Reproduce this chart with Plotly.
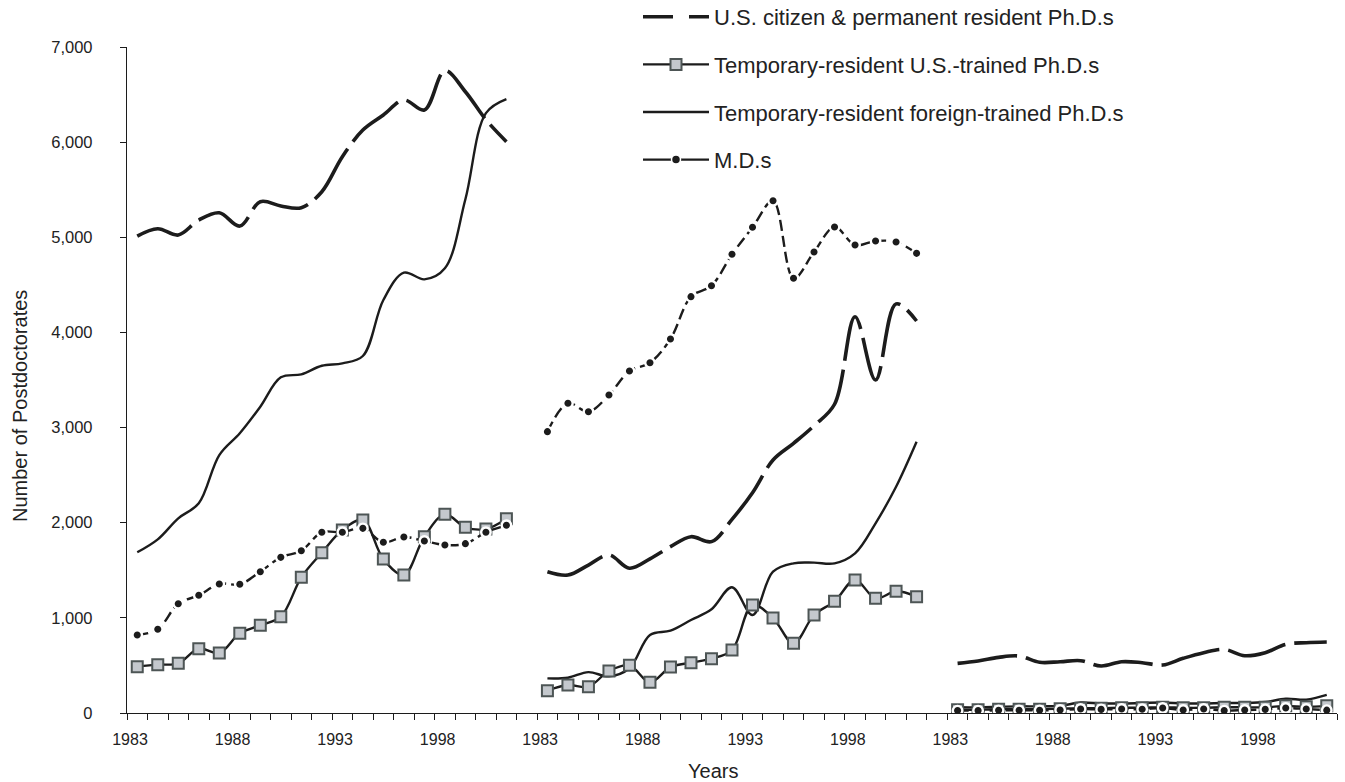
import plotly.graph_objects as go

# Years shown in each of the three side-by-side groups
years = list(range(1983, 2002))

# Postdoctorate counts per series, one list per group (left, middle, right)
us_citizen = [
    [5013, 5090, 5024, 5181, 5258, 5118, 5374, 5329, 5311, 5479, 5847, 6127, 6285, 6443, 6338, 6751, 6530, 6236, 6005],
    [1485, 1450, 1555, 1661, 1521, 1620, 1748, 1853, 1801, 2035, 2315, 2659, 2834, 3020, 3245, 4165, 3500, 4300, 4120],
    [522, 547, 585, 599, 533, 539, 550, 494, 539, 529, 504, 575, 634, 669, 602, 634, 722, 739, 746],
]
us_trained = [
    [487, 508, 522, 676, 631, 838, 922, 1012, 1426, 1685, 1923, 2028, 1618, 1450, 1853, 2088, 1952, 1934, 2042],
    [235, 294, 277, 441, 501, 323, 483, 529, 571, 662, 1135, 998, 732, 1030, 1174, 1398, 1205, 1279, 1223],
    [35, 35, 40, 40, 40, 45, 50, 50, 55, 55, 60, 55, 55, 60, 60, 60, 75, 65, 75],
]
foreign_trained = [
    [1689, 1825, 2046, 2204, 2711, 2940, 3219, 3528, 3560, 3650, 3675, 3752, 4341, 4628, 4558, 4674, 5400, 6305, 6453],
    [364, 371, 430, 385, 470, 820, 865, 977, 1090, 1321, 1030, 1485, 1573, 1580, 1573, 1678, 1994, 2378, 2851],
    [60, 60, 65, 70, 70, 75, 110, 100, 100, 105, 110, 100, 100, 105, 105, 115, 150, 140, 190],
]
mds = [
    [820, 880, 1149, 1237, 1356, 1353, 1485, 1636, 1706, 1899, 1899, 1941, 1794, 1850, 1808, 1766, 1780, 1899, 1973],
    [2957, 3255, 3167, 3342, 3594, 3682, 3931, 4376, 4491, 4821, 5105, 5384, 4569, 4845, 5108, 4919, 4961, 4950, 4831],
    [25, 25, 28, 28, 28, 32, 42, 38, 42, 40, 52, 32, 42, 25, 32, 38, 52, 42, 30],
]

y_ticks = [0, 1000, 2000, 3000, 4000, 5000, 6000, 7000]

series_names = [
    "U.S. citizen & permanent resident Ph.D.s",
    "Temporary-resident U.S.-trained Ph.D.s",
    "Temporary-resident foreign-trained Ph.D.s",
    "M.D.s",
]

GROUP_STRIDE = len(years) + 1          # one empty category between groups
N_SLOTS = 3 * len(years) + 2

INK = "#1c1c1c"
FONT = "Liberation Sans, Arial, Helvetica, sans-serif"


def stitch(groups):
    """Lay the three groups out on one category axis, breaking the line between them."""
    xs, ys = [], []
    for g, vals in enumerate(groups):
        for i, v in enumerate(vals):
            xs.append(g * GROUP_STRIDE + i)
            ys.append(v)
        xs.append(None)
        ys.append(None)
    return xs, ys


md_marker = dict(symbol="circle", size=9.5, color=INK, line=dict(color="white", width=2.4))
sq_marker = dict(symbol="square", size=11, color="#c4c8cd", line=dict(color="#4d5555", width=2))

styles = {
    "us": dict(line=dict(color=INK, width=3.6, dash="60px,9px", shape="spline"), mode="lines"),
    "ustr": dict(line=dict(color=INK, width=2.4, shape="spline"), mode="lines+markers", marker=sq_marker),
    "for": dict(line=dict(color=INK, width=2.4, shape="spline"), mode="lines"),
    "md": dict(line=dict(color=INK, width=2.4, dash="11px,5px", shape="spline"), mode="lines+markers", marker=md_marker),
}

fig = go.Figure()

# data lines, back to front
for key, groups in [("us", us_citizen), ("for", foreign_trained), ("ustr", us_trained), ("md", mds)]:
    xs, ys = stitch(groups)
    fig.add_trace(go.Scatter(x=xs, y=ys, showlegend=False, hoverinfo="skip", **styles[key]))

# legend entries
legend_styles = {
    "us": dict(line=dict(color=INK, width=3.6, dash="30px,16px"), mode="lines"),
    "ustr": dict(line=dict(color=INK, width=2.4), mode="lines+markers", marker=sq_marker),
    "for": dict(line=dict(color=INK, width=2.4), mode="lines"),
    "md": dict(
        line=dict(color=INK, width=2.4),
        mode="lines+markers",
        marker=dict(symbol="circle", size=9, color=INK, line=dict(color="white", width=1.5)),
    ),
}
for gi, (key, name) in enumerate(zip(["us", "ustr", "for", "md"], series_names)):
    fig.add_trace(go.Scatter(x=[None], y=[None], name=name, legendgroup=f"g{gi}", showlegend=True, **legend_styles[key]))

# category boundaries carry tick marks; every fifth year is labelled
tick_vals, tick_text = [], []
for g in range(3):
    for i, yr in enumerate(years):
        tick_vals.append(g * GROUP_STRIDE + i - 0.5)
        tick_text.append(str(yr) if (yr - years[0]) % 5 == 0 else "")
    if g < 2:
        tick_vals.append(g * GROUP_STRIDE + len(years) - 0.5)
        tick_text.append("")
tick_vals.append(N_SLOTS - 0.5)
tick_text.append("")

fig.update_layout(
    width=1345,
    height=782,
    autosize=False,
    margin=dict(l=127, r=8, t=47, b=69, autoexpand=False),
    paper_bgcolor="white",
    plot_bgcolor="white",
    font=dict(family=FONT, color="#222222"),
    showlegend=True,
    legend=dict(
        x=(638 - 127) / 1210,
        y=1 + (47 + 4) / 666,
        xanchor="left",
        yanchor="top",
        font=dict(size=22, family=FONT, color="#222222"),
        itemwidth=66,
        traceorder="grouped",
        tracegroupgap=16,
        bgcolor="rgba(0,0,0,0)",
    ),
    xaxis=dict(
        range=[-0.5, N_SLOTS - 0.5],
        tickmode="array",
        tickvals=tick_vals,
        ticktext=tick_text,
        ticks="outside",
        ticklen=6,
        tickwidth=1.2,
        tickcolor=INK,
        showline=True,
        linecolor=INK,
        linewidth=1.3,
        showgrid=False,
        zeroline=False,
        tickfont=dict(size=16, family=FONT, color="#222222"),
        ticklabelshift=3,
        ticklabelstandoff=6,
    ),
    yaxis=dict(
        range=[0, 7000],
        tickmode="array",
        tickvals=y_ticks,
        tickformat=",",
        ticks="outside",
        ticklen=6,
        tickwidth=1.2,
        tickcolor=INK,
        showline=True,
        linecolor=INK,
        linewidth=1.3,
        showgrid=False,
        zeroline=False,
        tickfont=dict(size=16.5, family=FONT, color="#222222"),
        ticklabelstandoff=24,
    ),
    annotations=[
        dict(
            text="Number of Postdoctorates",
            textangle=-90,
            xref="paper",
            yref="paper",
            x=(20 - 127) / 1210,
            y=(713 - 406) / 666,
            xanchor="center",
            yanchor="middle",
            showarrow=False,
            font=dict(size=20, family=FONT, color="#222222"),
        ),
        dict(
            text="Years",
            xref="paper",
            yref="paper",
            x=(712.5 - 127) / 1210,
            y=(713 - 771) / 666,
            xanchor="center",
            yanchor="middle",
            showarrow=False,
            font=dict(size=20, family=FONT, color="#222222"),
        ),
    ],
)

fig.write_html("out.html")
